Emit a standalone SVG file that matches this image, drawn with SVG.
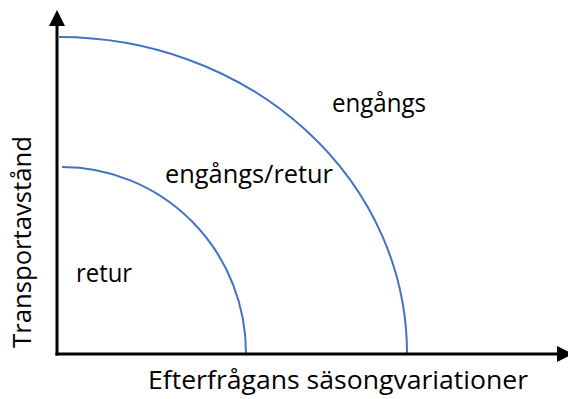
<svg xmlns="http://www.w3.org/2000/svg" width="568" height="399" viewBox="0 0 568 399">
<style>
.lbl{font-family:"Open Sans","Liberation Sans",sans-serif;font-size:25px;fill:#000}
.axis{stroke:#000;stroke-width:3;fill:none}
.curve{stroke:#4472C4;stroke-width:2;fill:none}
</style>
<defs>
<marker id="arr" markerUnits="userSpaceOnUse" markerWidth="16" markerHeight="16" refX="0" refY="8" orient="auto" viewBox="0 0 16 16">
<path d="M0,0 L16,8 L0,16 z" fill="#000"/>
</marker>
</defs>
<rect width="568" height="399" fill="#fff"/>
<g id="curves">
<path class="curve" d="M59,37 A348,316 0 0 1 407,353"/>
<path class="curve" d="M62,167 A184,186 0 0 1 246,353"/>
</g>
<g id="axes">
<path class="axis" d="M57,355.5 L57,26" marker-end="url(#arr)"/>
<path class="axis" d="M55.5,354 L557,354" marker-end="url(#arr)"/>
</g>
<g id="labels">
<text class="lbl" x="332" y="112" textLength="94" lengthAdjust="spacingAndGlyphs">engångs</text>
<text class="lbl" x="165" y="183" textLength="168" lengthAdjust="spacingAndGlyphs">engångs/retur</text>
<text class="lbl" x="76" y="282" textLength="56" lengthAdjust="spacingAndGlyphs">retur</text>
<text class="lbl" transform="translate(31,348) rotate(-90)" x="0" y="0" textLength="212" lengthAdjust="spacingAndGlyphs">Transportavstånd</text>
<text class="lbl" x="148" y="389" textLength="380" lengthAdjust="spacingAndGlyphs">Efterfrågans säsongvariationer</text>
</g>
</svg>
